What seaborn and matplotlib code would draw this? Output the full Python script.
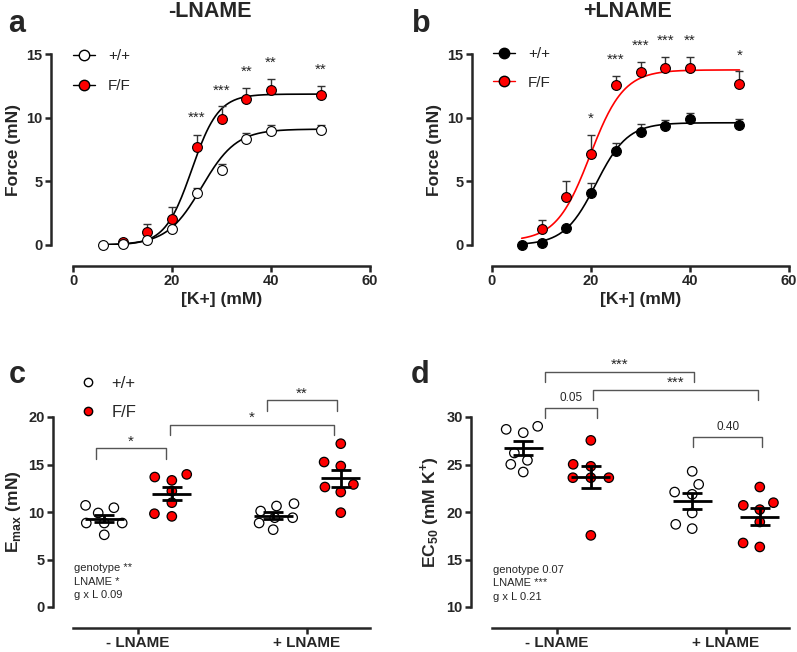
import numpy as np
import pandas as pd
import matplotlib
matplotlib.use("Agg")
import matplotlib.pyplot as plt
from matplotlib.lines import Line2D
import seaborn as sns

# ---------------- data ----------------
# panel a (-LNAME), force vs [K+]
k_wt_a = [6, 10, 15, 20, 25, 30, 35, 40, 50]
force_wt_a = [0.0, 0.08, 0.39, 1.26, 4.12, 5.87, 8.31, 8.97, 9.0]
sem_wt_a = [0.0, 0.0, 0.05, 0.1, 0.38, 0.48, 0.48, 0.47, 0.42]
k_ff_a = [10, 15, 20, 25, 30, 35, 40, 50]
force_ff_a = [0.2, 1.0, 2.07, 7.66, 9.91, 11.46, 12.2, 11.8]
sem_ff_a = [0.1, 0.65, 0.89, 0.94, 0.97, 0.87, 0.83, 0.7]
star_k_a = [25, 30, 35, 40, 50]
star_y_a = [10.0, 12.1, 13.6, 14.3, 13.75]
star_lab_a = ["***", "***", "**", "**", "**"]

# panel b (+LNAME)
k_wt_b = [6, 10, 15, 20, 25, 30, 35, 40, 50]
force_wt_b = [0.0, 0.13, 1.31, 4.09, 7.4, 8.86, 9.36, 9.89, 9.39]
sem_wt_b = [0.0, 0.05, 0.1, 0.76, 0.64, 0.64, 0.47, 0.47, 0.5]
k_ff_b = [10, 15, 20, 25, 30, 35, 40, 50]
force_ff_b = [1.23, 3.75, 7.16, 12.54, 13.56, 13.93, 13.88, 12.64]
sem_ff_b = [0.74, 1.31, 1.49, 0.76, 0.81, 0.84, 0.89, 1.03]
star_k_b = [20, 25, 30, 35, 40, 50]
star_y_b = [9.9, 14.55, 15.65, 16.0, 16.0, 14.87]
star_lab_b = ["*", "***", "***", "***", "**", "*"]

# sigmoid fits: bottom, top, K50, slope
fit_wt_a = (0.0, 9.1, 26.0, 3.5)
fit_ff_a = (0.0, 11.85, 24.0, 2.7)
fit_wt_b = (0.0, 9.6, 21.0, 3.2)
fit_ff_b = (0.3, 13.75, 19.8, 3.4)

# panel c / d, individual vessels
treat = ["- LNAME", "+ LNAME"]
geno = ["+/+", "F/F"]
emax_wt_minus = [10.7, 9.9, 10.45, 8.84, 8.84, 8.84, 7.6]
emax_ff_minus = [13.33, 13.96, 13.68, 12.2, 10.98, 9.54, 9.82]
emax_wt_plus = [10.63, 10.88, 10.1, 9.4, 9.4, 8.84, 8.14]
emax_ff_plus = [17.19, 15.26, 14.84, 12.9, 12.1, 12.63, 9.93]
ec50_wt_minus = [29.02, 28.35, 28.7, 25.44, 26.21, 25.02, 24.21]
ec50_ff_minus = [27.54, 24.81, 25.02, 23.61, 23.61, 23.61, 17.54]
ec50_wt_plus = [24.28, 22.91, 22.1, 21.86, 19.9, 18.25, 18.7]
ec50_ff_plus = [22.63, 20.98, 20.7, 20.25, 18.95, 16.32, 16.74]

# brackets: x1, x2, top, leg end, label
brackets_c = [(-0.25, 0.166, 16.7, 15.6, "*"),
              (0.19, 1.158, 19.2, 18.07, "*"),
              (0.763, 1.178, 21.75, 20.6, "**")]
brackets_d = [(-0.071, 0.808, 34.74, 33.68, "***"),
              (-0.071, 0.237, 30.98, 29.9, "0.05"),
              (0.211, 1.187, 32.88, 31.75, "***"),
              (0.804, 1.215, 27.9, 26.84, "0.40")]
stats_c = "genotype **\nLNAME *\ng x L 0.09"
stats_d = "genotype 0.07\nLNAME ***\ng x L 0.21"

# ---------------- style ----------------
sns.set_style("ticks")
plt.rcParams["font.family"] = ["Liberation Sans", "DejaVu Sans"]
plt.rcParams["mathtext.fontset"] = "custom"
plt.rcParams["mathtext.rm"] = "Liberation Sans"

W, H = 797, 652
fig = plt.figure(figsize=(W / 100, H / 100), dpi=100)


def place(left, right, top, bottom):
    return fig.add_axes([left / W, 1 - bottom / H, (right - left) / W, (bottom - top) / H])


def spines(ax, yout, xout):
    sns.despine(ax=ax)
    ax.spines["left"].set_position(("outward", yout * 0.72))
    ax.spines["bottom"].set_position(("outward", xout * 0.72))
    for s in ["left", "bottom"]:
        ax.spines[s].set_linewidth(1.8)
    ax.tick_params(width=1.8, length=4, labelsize=10.5, pad=2)


def sigmoid(x, p):
    b, t, k50, s = p
    return b + (t - b) / (1 + np.exp((k50 - x) / s))


def force_panel(ax, kw, fw, ew, kf, ff, ef, pw, pf, wt_face, ff_line, sk, sy, sl):
    xs = np.linspace(6, 50, 200)
    sns.lineplot(x=xs, y=sigmoid(xs, pw), color="black", lw=1.2, ax=ax, zorder=2)
    sns.lineplot(x=xs, y=sigmoid(xs, pf), color=ff_line, lw=1.2, ax=ax, zorder=2)
    ax.errorbar(kf, ff, yerr=[np.zeros(len(ef)), ef], fmt="none", ecolor="#333333",
                elinewidth=1, capsize=2.6, capthick=1, zorder=3, clip_on=False)
    ax.errorbar(kw, fw, yerr=[np.zeros(len(ew)), ew], fmt="none", ecolor="#333333",
                elinewidth=1, capsize=2.6, capthick=1, zorder=3, clip_on=False)
    sns.scatterplot(x=kf, y=ff, color="red", edgecolor="black", linewidth=0.8, s=50,
                    ax=ax, zorder=4, clip_on=False)
    sns.scatterplot(x=kw, y=fw, color=wt_face, edgecolor="black", linewidth=0.8, s=50,
                    ax=ax, zorder=5, clip_on=False)
    for x, y, lab in zip(sk, sy, sl):
        ax.text(x, y, lab, ha="center", va="center", fontsize=11, clip_on=False)
    ax.set_xlim(0, 60)
    ax.set_ylim(0, 15)
    ax.set_xticks([0, 20, 40, 60])
    ax.set_yticks([0, 5, 10, 15])
    ax.set_xlabel("[K+] (mM)", fontsize=12.6, fontweight="bold", labelpad=3)
    ax.set_ylabel("Force (mN)", fontsize=12.6, fontweight="bold", labelpad=4)
    handles = [Line2D([], [], color="black", lw=1, marker="o", markersize=7.5,
                      markerfacecolor=wt_face, markeredgecolor="black"),
               Line2D([], [], color=ff_line, lw=1, marker="o", markersize=7.5,
                      markerfacecolor="red", markeredgecolor="black")]
    return handles


# panel a
ax_a = place(73, 370, 54, 245)
h = force_panel(ax_a, k_wt_a, force_wt_a, sem_wt_a, k_ff_a, force_ff_a, sem_ff_a,
                fit_wt_a, fit_ff_a, "white", "black", star_k_a, star_y_a, star_lab_a)
spines(ax_a, 22, 21)
ax_a.legend(h, geno, loc="upper left", bbox_to_anchor=(73 / W, 1 - 49 / H),
            bbox_transform=fig.transFigure, frameon=False, fontsize=11,
            handlelength=1.45, handletextpad=0.85, labelspacing=1.05, borderaxespad=0,
            borderpad=0)

# panel b
ax_b = place(492, 789, 54, 245)
h = force_panel(ax_b, k_wt_b, force_wt_b, sem_wt_b, k_ff_b, force_ff_b, sem_ff_b,
                fit_wt_b, fit_ff_b, "black", "red", star_k_b, star_y_b, star_lab_b)
spines(ax_b, 20, 21)
ax_b.legend(h, geno, loc="upper left", bbox_to_anchor=(493 / W, 1 - 47 / H),
            bbox_transform=fig.transFigure, frameon=False, fontsize=11,
            handlelength=1.45, handletextpad=0.85, labelspacing=0.95, borderaxespad=0,
            borderpad=0)


def scatter_panel(ax, groups, ylim, yticks, ylabel, brackets, stats, stats_y):
    rows = []
    for (t, g), vals in groups.items():
        for v in vals:
            rows.append({"treat": t, "geno": g, "val": v})
    df = pd.DataFrame(rows)
    sns.swarmplot(data=df, x="treat", y="val", hue="geno", order=treat, hue_order=geno,
                  palette={"+/+": "white", "F/F": "red"}, dodge=True, size=6.8,
                  edgecolor="black", linewidth=0.9, legend=False, ax=ax, zorder=3)
    summ = df.groupby(["treat", "geno"])["val"].agg(["mean", "sem"])
    for i, t in enumerate(treat):
        for j, g in enumerate(geno):
            m, se = summ.loc[(t, g)]
            xc = i + (-0.2 if j == 0 else 0.2)
            ax.hlines(m, xc - 0.116, xc + 0.116, color="black", lw=2, zorder=5)
            ax.errorbar([xc], [m], yerr=[[se], [se]], fmt="none", ecolor="black",
                        elinewidth=2, capsize=7, capthick=2, zorder=5)
    for x1, x2, top, low, lab in brackets:
        ax.plot([x1, x1, x2, x2], [low, top, top, low], color="#555555", lw=1,
                clip_on=False)
        star = lab.startswith("*")
        ax.text((x1 + x2) / 2, top + (ylim[1] - ylim[0]) * (0.0 if star else 0.02), lab,
                ha="center", va="bottom", fontsize=11 if star else 8.5, clip_on=False)
    ax.text(-0.38, stats_y, stats, ha="left", va="top", fontsize=8, linespacing=1.45)
    ax.set_xlim(-0.385, 1.373)
    ax.set_ylim(*ylim)
    ax.set_yticks(yticks)
    ax.set_xlabel("")
    ax.set_ylabel(ylabel, fontsize=12.6, fontweight="bold", labelpad=4)
    ax.set_xticks([0, 1])
    ax.set_xticklabels(treat, fontsize=11, fontweight="bold")


ax_c = place(73, 370, 417, 607)
scatter_panel(ax_c,
              {("- LNAME", "+/+"): emax_wt_minus, ("- LNAME", "F/F"): emax_ff_minus,
               ("+ LNAME", "+/+"): emax_wt_plus, ("+ LNAME", "F/F"): emax_ff_plus},
              (0, 20), [0, 5, 10, 15, 20], r"E$_{\mathregular{max}}$ (mN)",
              brackets_c, stats_c, 4.6)
spines(ax_c, 20, 21)
ax_c.tick_params(axis="x", labelsize=11)
hc = [Line2D([], [], ls="none", marker="o", markersize=6, markerfacecolor="white",
             markeredgecolor="black"),
      Line2D([], [], ls="none", marker="o", markersize=6, markerfacecolor="red",
             markeredgecolor="black")]
ax_c.legend(hc, geno, loc="upper left", bbox_to_anchor=(80 / W, 1 - 376 / H),
            bbox_transform=fig.transFigure, frameon=False, fontsize=12,
            handlelength=1.0, handletextpad=0.9, labelspacing=0.85, borderaxespad=0,
            borderpad=0)

ax_d = place(492, 789, 417, 607)
scatter_panel(ax_d,
              {("- LNAME", "+/+"): ec50_wt_minus, ("- LNAME", "F/F"): ec50_ff_minus,
               ("+ LNAME", "+/+"): ec50_wt_plus, ("+ LNAME", "F/F"): ec50_ff_plus},
              (10, 30), [10, 15, 20, 25, 30], r"EC$_{\mathregular{50}}$ (mM K$^{\mathregular{+}}$)",
              brackets_d, stats_d, 14.45)
spines(ax_d, 21, 21)
ax_d.tick_params(axis="x", labelsize=11)

for ax in [ax_a, ax_b, ax_c, ax_d]:
    for lab in ax.get_xticklabels() + ax.get_yticklabels():
        lab.set_fontweight("bold")

# titles and panel letters
fig.text(210 / W, 1 - 17 / H, "-LNAME", ha="center", va="baseline", fontsize=15.5, fontweight="bold")
fig.text(628 / W, 1 - 17 / H, "+LNAME", ha="center", va="baseline", fontsize=15.5, fontweight="bold")
for x, y, lab in [(8, 32, "a"), (412, 32, "b"), (9, 383, "c"), (411, 383, "d")]:
    fig.text(x / W, 1 - y / H, lab, ha="left", va="baseline", fontsize=22, fontweight="bold")

# let the swarms settle, then open them up a little like the original column layout
fig.canvas.draw()
centers = np.array([-0.2, 0.2, 0.8, 1.2])
for ax in [ax_c, ax_d]:
    for coll in ax.collections:
        if "draw" in coll.__dict__:
            off = np.array(coll.get_offsets(), dtype=float)
            for p in off:
                c = centers[np.argmin(np.abs(centers - p[0]))]
                p[0] = c + 1.6 * (p[0] - c)
            coll.set_offsets(off)
            del coll.draw

fig.savefig("out.png", dpi=100)
